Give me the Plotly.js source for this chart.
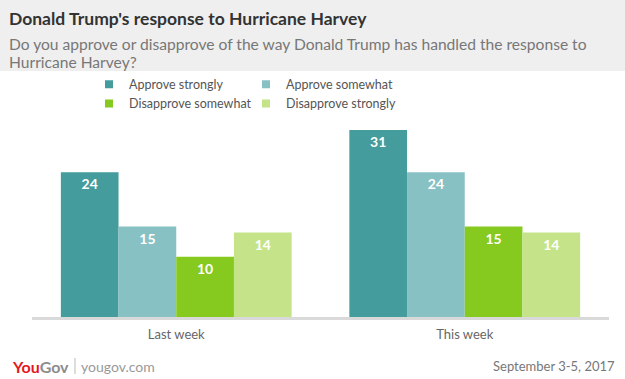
<!DOCTYPE html>
<html>
<head>
<meta charset="utf-8">
<script src="https://cdn.plot.ly/plotly-3.0.1.min.js"></script>
<style>html,body{margin:0;padding:0;background:#fff;}#chart{width:625px;height:379px;}</style>
</head>
<body>
<div id="chart"></div>
<script>
var categories = ["Last week", "This week"];
var seriesNames = ["Approve strongly", "Approve somewhat", "Disapprove somewhat", "Disapprove strongly"];
var approveStrongly = [24, 31];
var approveSomewhat = [15, 24];
var disapproveSomewhat = [10, 15];
var disapproveStrongly = [14, 14];
var seriesColors = ["#449c9c", "#88c1c4", "#86c91f", "#c5e48a"];
var legendIds = ["legend", "legend2", "legend", "legend2"];

var FONT = "Lato, 'Open Sans', sans-serif";
var seriesValues = [approveStrongly, approveSomewhat, disapproveSomewhat, disapproveStrongly];

var traces = [];
seriesValues.forEach(function (vals, i) {
  traces.push({
    type: "bar",
    name: seriesNames[i],
    x: categories,
    y: vals,
    text: vals.map(String),
    textposition: "inside",
    insidetextanchor: "end",
    textangle: 0,
    textfont: {family: FONT, size: 14, color: "#ffffff", weight: "bold"},
    marker: {color: seriesColors[i], line: {width: 0}},
    showlegend: false,
    hoverinfo: "x+y+name"
  });
});
// legend entries
seriesValues.forEach(function (vals, i) {
  traces.push({
    type: "scatter",
    mode: "markers",
    name: seriesNames[i],
    x: [null],
    y: [null],
    marker: {symbol: "square", size: 8, color: seriesColors[i]},
    legend: legendIds[i],
    showlegend: true,
    hoverinfo: "skip"
  });
});

var legendBase = {
  orientation: "v",
  xref: "paper", xanchor: "left",
  y: 1 - 94 / 379, yanchor: "middle", yref: "container",
  font: {family: FONT, size: 12.5, color: "#555555"},
  bgcolor: "rgba(0,0,0,0)",
  itemwidth: 30,
  tracegroupgap: 0,
  borderwidth: 0
};

var layout = {
  width: 625,
  height: 379,
  margin: {l: 32, r: 16, t: 124, b: 62},
  paper_bgcolor: "#ffffff",
  plot_bgcolor: "#ffffff",
  font: {family: FONT, color: "#666666"},
  barmode: "group",
  bargap: 0.2,
  bargroupgap: 0,
  xaxis: {
    type: "category",
    showline: true,
    linecolor: "#d9d9d9",
    linewidth: 3,
    ticks: "",
    ticklabelstandoff: 3,
    tickfont: {family: FONT, size: 13, color: "#666666"},
    showgrid: false,
    zeroline: false,
    fixedrange: true
  },
  yaxis: {
    range: [0, 32],
    visible: false,
    showgrid: false,
    zeroline: false,
    fixedrange: true
  },
  legend: Object.assign({}, legendBase, {x: (89 - 32) / 577}),
  legend2: Object.assign({}, legendBase, {x: (246 - 32) / 577}),
  shapes: [{
    type: "rect", xref: "paper", yref: "paper",
    x0: -0.1, x1: 1.1, y0: 1 + (124 - 71) / 193, y1: 1 + 124 / 193,
    fillcolor: "#efefef", line: {width: 0}, layer: "below"
  }, {
    type: "line", xref: "paper", yref: "paper",
    x0: (75 - 32) / 577, x1: (75 - 32) / 577,
    y0: -(358 - 317) / 193, y1: -(374 - 317) / 193,
    line: {color: "#bbbbbb", width: 1}
  }],
  annotations: [{
    text: "<b>Donald Trump's response to Hurricane Harvey</b>",
    xref: "paper", yref: "paper", x: -25 / 577, y: 1 + (124 - 19) / 193,
    xanchor: "left", yanchor: "middle", showarrow: false,
    font: {family: FONT, size: 17.5, color: "#333333"}
  }, {
    text: "Do you approve or disapprove of the way Donald Trump has handled the response to",
    xref: "paper", yref: "paper", x: -25 / 577, y: 1 + (124 - 44) / 193,
    xanchor: "left", yanchor: "middle", align: "left", showarrow: false,
    font: {family: FONT, size: 15.6, color: "#777777"}
  }, {
    text: "Hurricane Harvey?",
    xref: "paper", yref: "paper", x: -25 / 577, y: 1 + (124 - 62) / 193,
    xanchor: "left", yanchor: "middle", align: "left", showarrow: false,
    font: {family: FONT, size: 15.6, color: "#777777"}
  }, {
    text: "<b><span style='color:#e4161e'>You</span><span style='color:#8c8c8c'>Gov</span></b>",
    xref: "paper", yref: "paper", x: -22 / 577, y: -(366 - 317) / 193,
    xanchor: "left", yanchor: "middle", showarrow: false,
    font: {family: FONT, size: 16}
  }, {
    text: "yougov.com",
    xref: "paper", yref: "paper", x: (79 - 32) / 577, y: -(366 - 317) / 193,
    xanchor: "left", yanchor: "middle", showarrow: false,
    font: {family: FONT, size: 14, color: "#999999"}
  }, {
    text: "September 3-5, 2017",
    xref: "paper", yref: "paper", x: (617 - 32) / 577, y: -(366 - 317) / 193,
    xanchor: "right", yanchor: "middle", showarrow: false,
    font: {family: FONT, size: 13, color: "#777777"}
  }]
};

Plotly.newPlot("chart", traces, layout, {displayModeBar: false, staticPlot: true});
</script>
</body>
</html>
